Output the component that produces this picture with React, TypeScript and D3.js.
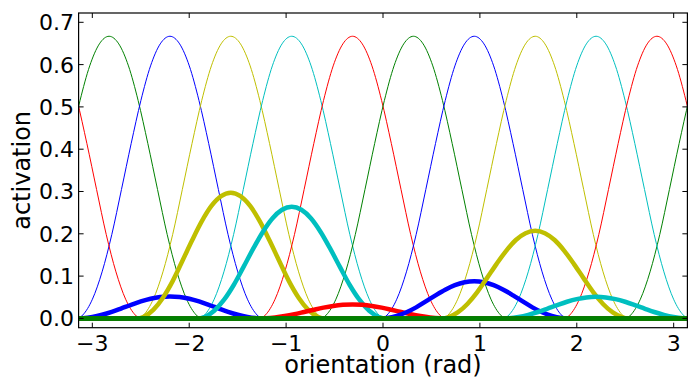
import React, { useEffect, useRef } from "react";
import * as d3 from "d3";

// preferred orientations of the 10 units (rad)
const centers = [-2.827, -2.199, -1.571, -0.942, -0.314, 0.314, 0.942, 1.571, 2.199, 2.827];
// peak of the thin tuning curves
const tuningPeak = 0.667;
// peaks of the thick (weighted) curves, same order as centers
const responsePeaks = [0, 0.052, 0.297, 0.264, 0.033, 0, 0.088, 0.207, 0.051, 0];
// tuning curve shape: offset from center (rad) -> fraction of peak
const shapeOffsets = [0, 0.1, 0.2, 0.3, 0.4, 0.5, 0.6, 0.7, 0.8, 0.9, 0.95];
const shapeValues = [1, 0.973, 0.895, 0.772, 0.62, 0.457, 0.297, 0.165, 0.068, 0.012, 0];

const xTicks = [-3, -2, -1, 0, 1, 2, 3];
const yTicks = [0, 0.1, 0.2, 0.3, 0.4, 0.5, 0.6, 0.7];

const colorCycle = ["#008000", "#0000ff", "#bfbf00", "#00bfbf", "#ff0000"];

const W = 698;
const H = 381;

function curvePoints(center: number, peak: number): [number, number][] {
    const far = Math.PI + 1.5;
    const pts: [number, number][] = [[-far, 0], [far, 0]];
    [center - 2 * Math.PI, center, center + 2 * Math.PI].forEach(c => {
        shapeOffsets.forEach((o, i) => {
            const v = shapeValues[i] * peak;
            pts.push([c - o, v]);
            if (o !== 0) pts.push([c + o, v]);
        });
    });
    const inside = pts.filter(p => p[0] >= -far && p[0] <= far);
    inside.sort((a, b) => a[0] - b[0]);
    return inside;
}

export default function App() {
    const ref = useRef<SVGSVGElement>(null);

    useEffect(() => {
        const svg = d3.select(ref.current);
        svg.selectAll("*").remove();

        const x = d3.scaleLinear().domain([-Math.PI, Math.PI]).range([78.6, 687.4]);
        const y = d3.scaleLinear().domain([-0.022, 0.722]).range([327.7, 13]);
        const font = "DejaVu Sans, sans-serif";

        svg.append("defs").append("clipPath").attr("id", "plotclip")
            .append("rect")
            .attr("x", x(-Math.PI)).attr("y", y(0.722))
            .attr("width", x(Math.PI) - x(-Math.PI))
            .attr("height", y(-0.022) - y(0.722));

        const line = d3.line<[number, number]>()
            .x(d => x(d[0]))
            .y(d => y(d[1]))
            .curve(d3.curveMonotoneX);

        const plot = svg.append("g").attr("clip-path", "url(#plotclip)");

        // thin tuning curves
        centers.forEach((c, i) => {
            plot.append("path")
                .attr("d", line(curvePoints(c, tuningPeak)))
                .attr("fill", "none")
                .attr("stroke", colorCycle[i % colorCycle.length])
                .attr("stroke-width", 1);
        });

        // thick weighted responses, the flat green ones on top
        const order = centers.map((_, i) => i)
            .sort((a, b) => (a % 5 === 0 ? 1 : 0) - (b % 5 === 0 ? 1 : 0));
        order.forEach(i => {
            plot.append("path")
                .attr("d", line(curvePoints(centers[i], responsePeaks[i])))
                .attr("fill", "none")
                .attr("stroke", colorCycle[i % colorCycle.length])
                .attr("stroke-width", 4.5)
                .attr("stroke-linejoin", "round");
        });

        // frame
        svg.append("rect")
            .attr("x", x(-Math.PI)).attr("y", y(0.722))
            .attr("width", x(Math.PI) - x(-Math.PI))
            .attr("height", y(-0.022) - y(0.722))
            .attr("fill", "none")
            .attr("stroke", "#000")
            .attr("stroke-width", 1.2);

        const tickLen = 5;
        const top = y(0.722), bottom = y(-0.022), left = x(-Math.PI), right = x(Math.PI);

        xTicks.forEach(t => {
            const px = x(t);
            svg.append("line").attr("x1", px).attr("x2", px)
                .attr("y1", bottom).attr("y2", bottom - tickLen)
                .attr("stroke", "#000").attr("stroke-width", 1);
            svg.append("line").attr("x1", px).attr("x2", px)
                .attr("y1", top).attr("y2", top + tickLen)
                .attr("stroke", "#000").attr("stroke-width", 1);
            svg.append("text")
                .attr("x", px).attr("y", 351)
                .attr("text-anchor", "middle")
                .attr("font-family", font)
                .attr("font-size", 22)
                .text(t < 0 ? "\u2212" + Math.abs(t) : String(t));
        });

        yTicks.forEach(t => {
            const py = y(t);
            svg.append("line").attr("x1", left).attr("x2", left + tickLen)
                .attr("y1", py).attr("y2", py)
                .attr("stroke", "#000").attr("stroke-width", 1);
            svg.append("line").attr("x1", right).attr("x2", right - tickLen)
                .attr("y1", py).attr("y2", py)
                .attr("stroke", "#000").attr("stroke-width", 1);
            svg.append("text")
                .attr("x", 74).attr("y", py + 8)
                .attr("text-anchor", "end")
                .attr("font-family", font)
                .attr("font-size", 22)
                .text(t.toFixed(1));
        });

        svg.append("text")
            .attr("x", (left + right) / 2).attr("y", 373)
            .attr("text-anchor", "middle")
            .attr("font-family", font)
            .attr("font-size", 24)
            .text("orientation (rad)");

        svg.append("text")
            .attr("transform", `translate(30, ${(top + bottom) / 2}) rotate(-90)`)
            .attr("text-anchor", "middle")
            .attr("font-family", font)
            .attr("font-size", 24)
            .text("activation");
    }, []);

    return (
        <svg ref={ref} width={W} height={H}
            style={{ position: "absolute", left: 0, top: 0, background: "#fff" }} />
    );
}
